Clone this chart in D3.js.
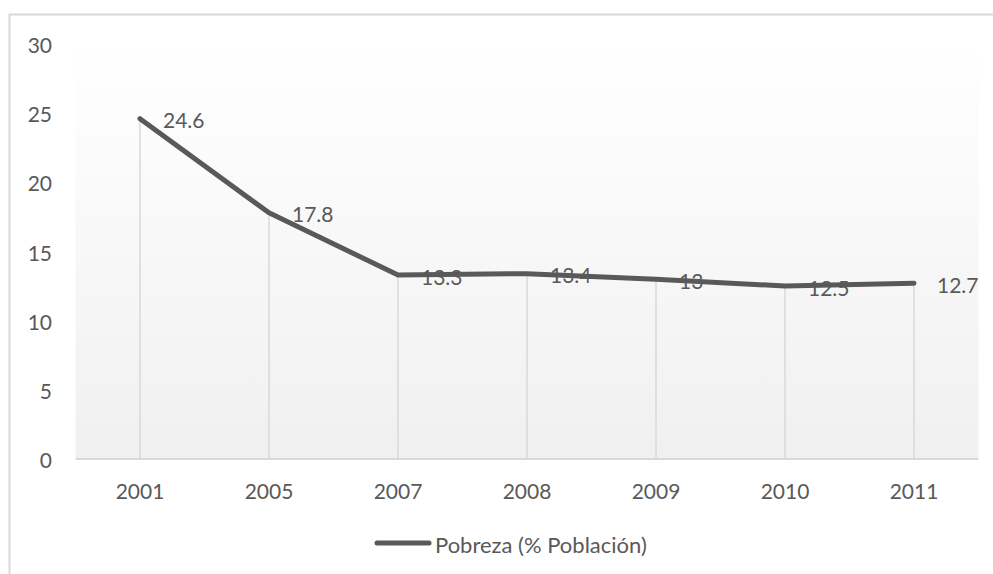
<!DOCTYPE html>
<html>
<head>
<meta charset="utf-8">
<script src="https://cdn.jsdelivr.net/npm/d3@7"></script>
<style>
  html, body { margin: 0; padding: 0; background: #ffffff; }
  svg { display: block; font-family: Lato, "Open Sans", sans-serif; }
</style>
</head>
<body>
<svg id="chart" width="993" height="574"></svg>
<script>
const categories = ["2001", "2005", "2007", "2008", "2009", "2010", "2011"];
const pobreza = [24.6, 17.8, 13.3, 13.4, 13, 12.5, 12.7];
const yTicks = [0, 5, 10, 15, 20, 25, 30];
const seriesName = "Pobreza (% Población)";

const svg = d3.select("#chart");
const W = 993, H = 574;
const plot = { left: 75.5, right: 978.5, top: 44, bottom: 459 };
const textColor = "#595959";
const lineColor = "#595959";
const gridColor = "#d9d9d9";

// outer chart border
svg.append("rect")
  .attr("x", 9.5).attr("y", 14.5)
  .attr("width", W + 20).attr("height", H + 20)
  .attr("fill", "#ffffff").attr("stroke", gridColor).attr("stroke-width", 2);

const x = d3.scaleBand().domain(categories).range([plot.left, plot.right]);
const y = d3.scaleLinear().domain([0, 30]).range([plot.bottom, plot.top]);

// gradient background
const defs = svg.append("defs");
const grad = defs.append("linearGradient").attr("id", "bg")
  .attr("x1", 0).attr("y1", 0).attr("x2", 0).attr("y2", 1);
grad.append("stop").attr("offset", "0%").attr("stop-color", "#ffffff");
grad.append("stop").attr("offset", "100%").attr("stop-color", "#f0f0f0");

svg.append("rect")
  .attr("x", plot.left).attr("y", plot.top)
  .attr("width", plot.right - plot.left).attr("height", plot.bottom - plot.top)
  .attr("fill", "url(#bg)");

// drop lines
svg.append("g").selectAll("line").data(categories).join("line")
  .attr("x1", (d) => x(d) + x.bandwidth() / 2)
  .attr("x2", (d) => x(d) + x.bandwidth() / 2)
  .attr("y1", (d, i) => y(pobreza[i]))
  .attr("y2", y(0))
  .attr("stroke", gridColor).attr("stroke-width", 1.5);

// x axis
const xAxis = svg.append("g").attr("transform", `translate(0,${y(0)})`)
  .call(d3.axisBottom(x).tickSize(0).tickPadding(0));
xAxis.select(".domain").attr("stroke", gridColor).attr("stroke-width", 2)
  .attr("d", `M${plot.left},0H${plot.right}`);
xAxis.selectAll("text").attr("fill", textColor).attr("font-size", 21)
  .attr("font-family", "Lato, 'Open Sans', sans-serif")
  .attr("dy", null).attr("y", 31).attr("dominant-baseline", "central");

// y axis (labels only)
const yAxis = svg.append("g").attr("transform", `translate(52,0)`)
  .call(d3.axisLeft(y).tickValues(yTicks).tickSize(0).tickPadding(0));
yAxis.select(".domain").remove();
yAxis.selectAll("text").attr("fill", textColor).attr("font-size", 21)
  .attr("font-family", "Lato, 'Open Sans', sans-serif")
  .attr("dy", null).attr("dominant-baseline", "central");

// line
const line = d3.line()
  .x((d, i) => x(categories[i]) + x.bandwidth() / 2)
  .y((d) => y(d));
svg.append("path").datum(pobreza)
  .attr("d", line)
  .attr("fill", "none").attr("stroke", lineColor).attr("stroke-width", 5)
  .attr("stroke-linejoin", "round").attr("stroke-linecap", "round");

// data labels
svg.append("g").selectAll("text").data(pobreza).join("text")
  .attr("x", (d, i) => x(categories[i]) + x.bandwidth() / 2 + 23)
  .attr("y", (d) => y(d) + 1)
  .attr("dominant-baseline", "central")
  .attr("fill", textColor).attr("font-size", 21)
  .text((d) => d);

// legend
const lg = svg.append("g");
lg.append("line").attr("x1", 377).attr("x2", 429).attr("y1", 543).attr("y2", 543)
  .attr("stroke", lineColor).attr("stroke-width", 5).attr("stroke-linecap", "round");
lg.append("text").attr("x", 435).attr("y", 544).attr("dominant-baseline", "central")
  .attr("fill", textColor).attr("font-size", 22).text(seriesName);
</script>
</body>
</html>
